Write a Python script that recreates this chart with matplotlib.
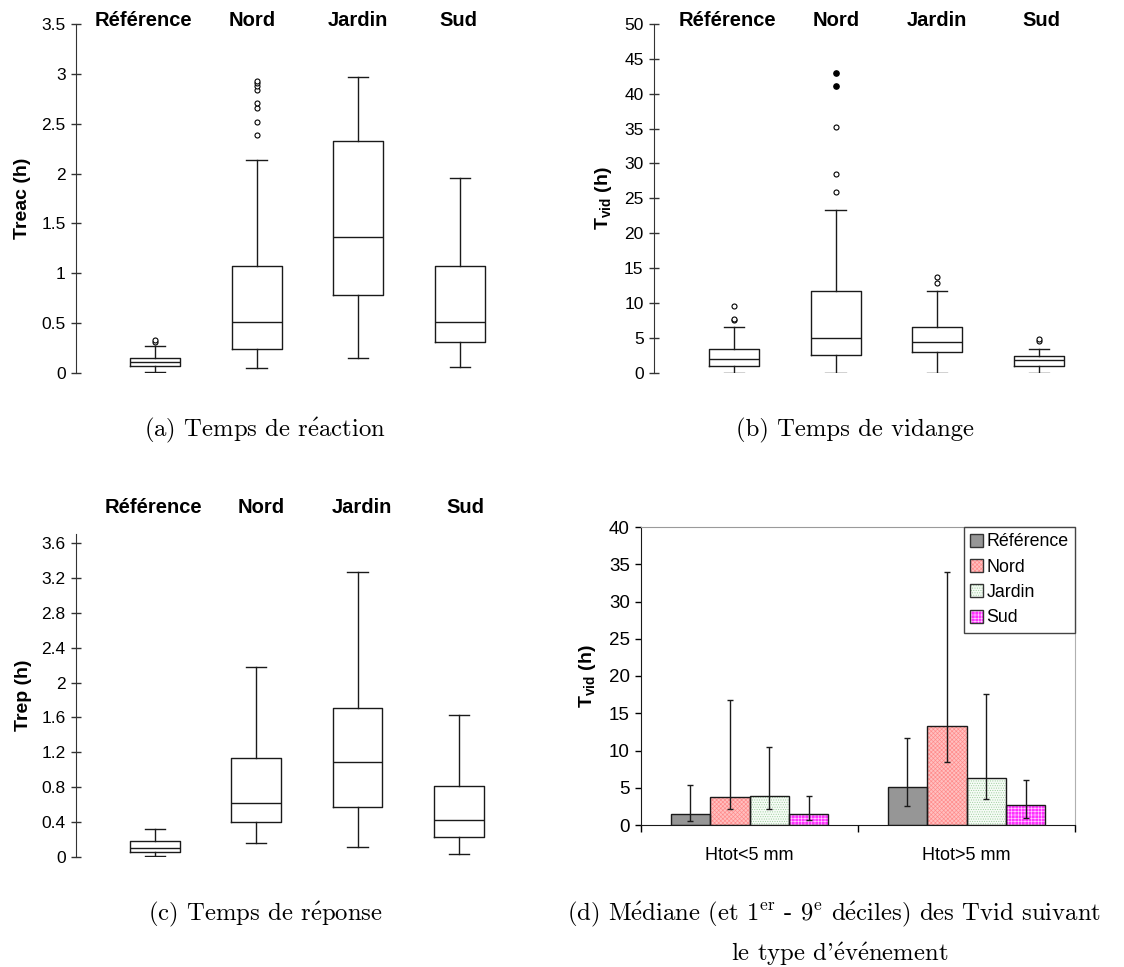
import matplotlib
matplotlib.use('Agg')
import matplotlib.pyplot as plt
from matplotlib.patches import Patch
from matplotlib.ticker import FuncFormatter
from matplotlib.legend_handler import HandlerTuple
import numpy as np

plt.rcParams['font.family'] = ['Liberation Sans', 'DejaVu Sans']
plt.rcParams['mathtext.fontset'] = 'custom'
plt.rcParams['mathtext.rm'] = 'Liberation Sans'
plt.rcParams['mathtext.bf'] = 'Liberation Sans:bold'
plt.rcParams['hatch.linewidth'] = 0.45

# ---------------- data ----------------
sites = ['Référence', 'Nord', 'Jardin', 'Sud']

# (a) Temps de réaction
treac_whislo = [0.01, 0.047, 0.15, 0.057]
treac_q1 = [0.067, 0.244, 0.78, 0.31]
treac_med = [0.11, 0.51, 1.36, 0.51]
treac_q3 = [0.15, 1.07, 2.33, 1.07]
treac_whishi = [0.27, 2.14, 2.97, 1.96]
treac_fliers = [[0.31, 0.33], [2.39, 2.52, 2.66, 2.71, 2.84, 2.88, 2.91, 2.93], [], []]
treac_ticks = [0, 0.5, 1, 1.5, 2, 2.5, 3, 3.5]

# (b) Temps de vidange
tvid_whislo = [0.0, 0.0, 0.0, 0.0]
tvid_q1 = [1.0, 2.58, 3.0, 1.0]
tvid_med = [1.9, 4.92, 4.45, 1.77]
tvid_q3 = [3.44, 11.76, 6.5, 2.34]
tvid_whishi = [6.6, 23.4, 11.76, 3.44]
tvid_fliers = [[7.55, 7.75, 9.5], [25.9, 28.5, 35.3], [12.9, 13.7], [4.6, 4.8]]
tvid_extremes = [[], [41.1, 43.0], [], []]
tvid_ticks = [0, 5, 10, 15, 20, 25, 30, 35, 40, 45, 50]

# (c) Temps de réponse
trep_whislo = [0.008, 0.16, 0.115, 0.03]
trep_q1 = [0.053, 0.40, 0.573, 0.23]
trep_med = [0.10, 0.615, 1.09, 0.43]
trep_q3 = [0.18, 1.13, 1.71, 0.81]
trep_whishi = [0.317, 2.18, 3.27, 1.63]
trep_ticks = [0, 0.4, 0.8, 1.2, 1.6, 2, 2.4, 2.8, 3.2, 3.6]

# (d) Médiane et déciles des Tvid
event_types = ['Htot<5 mm', 'Htot>5 mm']
d_med = {'Référence': [1.48, 5.06], 'Nord': [3.76, 13.29],
         'Jardin': [3.85, 6.31], 'Sud': [1.52, 2.64]}
d_dec1 = {'Référence': [0.58, 2.6], 'Nord': [2.19, 8.5],
          'Jardin': [2.19, 3.53], 'Sud': [0.67, 0.94]}
d_dec9 = {'Référence': [5.32, 11.72], 'Nord': [16.73, 33.9],
          'Jardin': [10.42, 17.54], 'Sud': [3.94, 6.04]}
d_ticks = [0, 5, 10, 15, 20, 25, 30, 35, 40]

# ---------------- figure ----------------
W, H = 1124, 967
fig = plt.figure(figsize=(W / 100, H / 100), dpi=100)


def px_axes(left, right, top, bottom):
    return fig.add_axes([left / W, 1 - bottom / H, (right - left) / W, (bottom - top) / H])


def fmt_g(v, pos):
    return '%g' % v


def boxpanel(ax, whislo, q1, med, q3, whishi, fliers, ticks, ylim, xlim, ylabel,
             label_dx, label_y):
    stats = []
    for i in range(len(sites)):
        stats.append(dict(whislo=whislo[i], q1=q1[i], med=med[i], q3=q3[i],
                          whishi=whishi[i], fliers=fliers[i]))
    lc = '#1a1a1a'
    ax.bxp(stats, positions=np.arange(1, len(sites) + 1), widths=0.49,
           capwidths=0.2, showfliers=True,
           boxprops=dict(color=lc, lw=1.0),
           whiskerprops=dict(color=lc, lw=1.0),
           capprops=dict(color=lc, lw=1.0),
           medianprops=dict(color=lc, lw=1.0),
           flierprops=dict(marker='o', markersize=3.6, markerfacecolor='white',
                           markeredgecolor='black', markeredgewidth=0.8))
    ax.set_xlim(*xlim)
    ax.set_ylim(*ylim)
    for s in ['top', 'right', 'bottom']:
        ax.spines[s].set_visible(False)
    ax.spines['left'].set_color('#333333')
    ax.set_xticks([])
    ax.set_yticks(ticks)
    ax.yaxis.set_major_formatter(FuncFormatter(fmt_g))
    ax.tick_params(axis='y', direction='inout', length=7, width=1, colors='#333333',
                   labelcolor='black', labelsize=12.5, pad=4)
    ax.set_ylabel(ylabel, fontsize=14, fontweight='bold', labelpad=7)
    for i, name in enumerate(sites):
        ax.annotate(name, xy=(i + 1 + label_dx[i], label_y),
                    xycoords=('data', 'axes fraction'),
                    ha='center', va='center', fontsize=14.5, fontweight='bold',
                    annotation_clip=False)


# (a)
ax_a = px_axes(76, 540, 24, 373)
boxpanel(ax_a, treac_whislo, treac_q1, treac_med, treac_q3, treac_whishi, treac_fliers,
         treac_ticks, (0, 3.5), (0.223, 4.787), 'Treac (h)',
         [-0.11, -0.04, 0.0, -0.02], 1.011)

# (b)
ax_b = px_axes(654, 1115, 24, 372.7)
boxpanel(ax_b, tvid_whislo, tvid_q1, tvid_med, tvid_q3, tvid_whishi, tvid_fliers,
         tvid_ticks, (0, 50), (0.2134, 4.748), r'$\mathbf{T_{vid}}$ (h)',
         [-0.06, 0.01, 0.0, 0.02], 1.011)
for i, ext in enumerate(tvid_extremes):
    if ext:
        ax_b.plot([i + 1] * len(ext), ext, 'o', color='black', markersize=3.8, ls='none')

# (c)
ax_c = px_axes(76, 540, 533.5, 857)
boxpanel(ax_c, trep_whislo, trep_q1, trep_med, trep_q3, trep_whishi, [[], [], [], []],
         trep_ticks, (0, 3.71), (0.2204, 4.8), 'Trep (h)',
         [-0.02, 0.047, 0.04, 0.06], 1.079)

# (d)
ax_d = px_axes(641, 1075, 527, 825)
bw = 0.182
styles = {
    'Référence': dict(face='#969696', hatch=None, hcol='#969696'),
    'Nord': dict(face='#ffc0c0', hatch='xxxxxxxx', hcol='#ff8a8a'),
    'Jardin': dict(face='#f6fbf6', hatch='.......', hcol='#9ccf9c'),
    'Sud': dict(face='#ff30ff', hatch='+++++', hcol='#ffd0ff'),
}
xc = np.arange(len(event_types))
handles = []
for j, name in enumerate(sites):
    st = styles[name]
    xs = xc + (j - 1.5) * bw
    ax_d.bar(xs, d_med[name], width=bw, color=st['face'], hatch=st['hatch'],
             edgecolor=st['hcol'], linewidth=0, zorder=2)
    ax_d.bar(xs, d_med[name], width=bw, fill=False, edgecolor='#1a1a1a',
             linewidth=1.0, zorder=3)
    med = np.array(d_med[name])
    lo = med - np.array(d_dec1[name])
    hi = np.array(d_dec9[name]) - med
    ax_d.errorbar(xs, med, yerr=[lo, hi], fmt='none', ecolor='#1a1a1a',
                  elinewidth=1.0, capsize=2.5, capthick=1.0, zorder=4)
    h_fill = Patch(facecolor=st['face'], hatch=st['hatch'], edgecolor=st['hcol'], linewidth=0)
    h_edge = Patch(fill=False, edgecolor='#333333', linewidth=1.0)
    handles.append((h_fill, h_edge))

ax_d.set_xlim(-0.5, 1.5)
ax_d.set_ylim(0, 40)
ax_d.set_yticks(d_ticks)
ax_d.tick_params(axis='y', direction='out', length=4, width=1, labelsize=13.5, pad=4)
ax_d.set_xticks([-0.5, 0.5, 1.5])
ax_d.set_xticklabels(['', '', ''])
ax_d.set_xticks(xc, minor=True)
ax_d.set_xticklabels(event_types, minor=True, fontsize=13)
ax_d.tick_params(axis='x', which='major', direction='out', length=5, width=1)
ax_d.tick_params(axis='x', which='minor', length=0, pad=16)
ax_d.spines['top'].set_color('#9a9a9a')
ax_d.spines['right'].set_color('#b0b0b0')
ax_d.spines['left'].set_color('#1a1a1a')
ax_d.spines['bottom'].set_color('#1a1a1a')
ax_d.set_ylabel(r'$\mathbf{T_{vid}}$ (h)', fontsize=14, fontweight='bold', labelpad=8)
leg = ax_d.legend(handles, sites, loc='upper right', borderaxespad=0, fontsize=12.8,
                  handlelength=0.75, handleheight=0.75, handletextpad=0.2,
                  labelspacing=0.47, fancybox=False, framealpha=1,
                  edgecolor='#444444', borderpad=0.35,
                  handler_map={tuple: HandlerTuple(ndivide=1)})
leg.get_frame().set_linewidth(1.0)

# captions
cap_kw = dict(ha='center', va='center', fontsize=17.8, family='cmr10', math_fontfamily='cm')
fig.text(264.5 / W, 1 - 430 / H, r'(a) Temps de r$\acute{\mathrm{e}}$action', **cap_kw)
fig.text(855 / W, 1 - 430 / H, r'(b) Temps de vidange', **cap_kw)
fig.text(265 / W, 1 - 914 / H, r'(c) Temps de r$\acute{\mathrm{e}}$ponse', **cap_kw)
fig.text(834 / W, 1 - 914 / H,
         r'(d) M$\acute{\mathrm{e}}$diane (et 1$^{\mathrm{er}}$ - 9$^{\mathrm{e}}$ '
         r'd$\acute{\mathrm{e}}$ciles) des Tvid suivant', **cap_kw)
fig.text(840 / W, 1 - 954 / H,
         r"le type d'$\acute{\mathrm{e}}$v$\acute{\mathrm{e}}$nement", **cap_kw)

fig.savefig('out.png', dpi=100)
